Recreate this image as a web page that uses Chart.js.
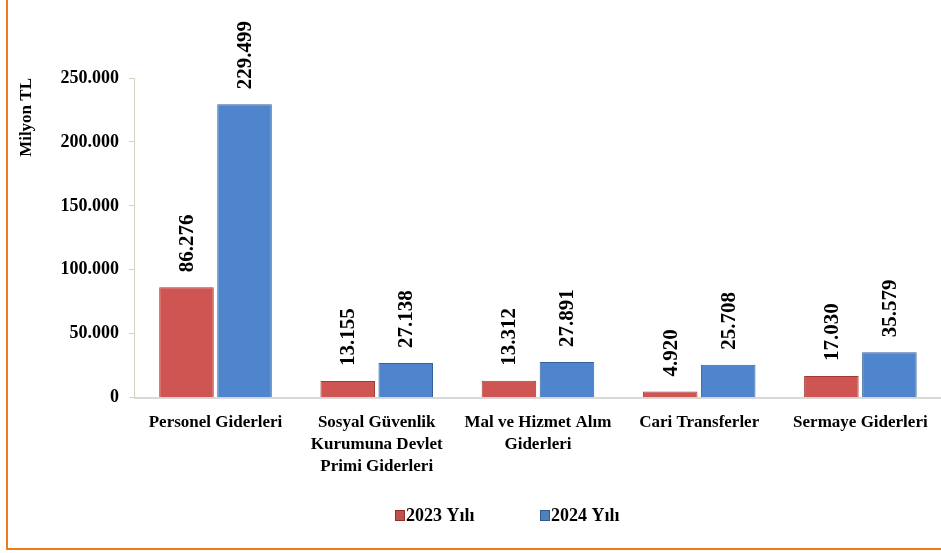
<!DOCTYPE html>
<html>
<head>
<meta charset="utf-8">
<script src="https://cdn.jsdelivr.net/npm/chart.js@4.4.0/dist/chart.umd.min.js"></script>
<style>
  html, body { margin: 0; padding: 0; background: #fff; }
  #wrap { position: relative; width: 941px; height: 553px; overflow: hidden; }
  #frame {
    position: absolute; left: 6px; top: -10px; width: 960px; height: 560px;
    border-left: 2px solid #F07A1A; border-bottom: 2px solid #F07A1A;
    box-sizing: border-box; pointer-events: none;
  }
  canvas { position: absolute; left: 0; top: 0; }
</style>
</head>
<body>
<div id="wrap">
  <canvas id="chart" width="941" height="553"></canvas>
  <div id="frame"></div>
</div>
<script>
// ===== 数据 =====
const categories = [
    ['Personel Giderleri'],
    ['Sosyal Güvenlik', 'Kurumuna Devlet', 'Primi Giderleri'],
    ['Mal ve Hizmet Alım', 'Giderleri'],
    ['Cari Transferler'],
    ['Sermaye Giderleri']
];
const seriesNames = ['2023 Yılı', '2024 Yılı'];
const values2023 = [86276, 13155, 13312, 4920, 17030];
const values2024 = [229499, 27138, 27891, 25708, 35579];
const yTicks = [0, 50000, 100000, 150000, 200000, 250000];

const FONT = '"Liberation Serif", "Times New Roman", serif';

// 千位分隔符用点
function fmt(v) {
    return String(v).replace(/\B(?=(\d{3})+(?!\d))/g, '.');
}

// 柱子的横向渐变（模拟立体效果）
function barGradient(ctx, edge, mid) {
    const chart = ctx.chart;
    const el = ctx.element;
    if (!chart.chartArea || !el || el.width === undefined) return mid;
    const x0 = el.x - el.width / 2;
    const x1 = el.x + el.width / 2;
    const g = chart.ctx.createLinearGradient(x0, 0, x1, 0);
    g.addColorStop(0, edge);
    g.addColorStop(0.12, mid);
    g.addColorStop(0.88, mid);
    g.addColorStop(1, edge);
    return g;
}

// 柱顶竖排数值
const valueLabels = {
    id: 'valueLabels',
    afterDatasetsDraw(chart) {
        const ctx = chart.ctx;
        ctx.save();
        ctx.font = 'bold 21px ' + FONT;
        ctx.fillStyle = '#000';
        ctx.textAlign = 'left';
        ctx.textBaseline = 'middle';
        chart.data.datasets.forEach((ds, di) => {
            const meta = chart.getDatasetMeta(di);
            meta.data.forEach((bar, i) => {
                ctx.save();
                ctx.translate(bar.x, bar.y - 15);
                ctx.rotate(-Math.PI / 2);
                ctx.fillText(fmt(ds.data[i]), 0, 1);
                ctx.restore();
            });
        });
        ctx.restore();
    }
};

// 底部图例（自绘）
const bottomLegend = {
    id: 'bottomLegend',
    afterDraw(chart) {
        const ctx = chart.ctx;
        const items = [
            { x: 395, color: '#C0504D', edge: '#8E2F2C' },
            { x: 540, color: '#4F81BD', edge: '#2F5A8E' }
        ];
        ctx.save();
        ctx.font = 'bold 18px ' + FONT;
        ctx.textBaseline = 'middle';
        items.forEach((it, i) => {
            ctx.fillStyle = it.color;
            ctx.fillRect(it.x, 510, 10, 11);
            ctx.strokeStyle = it.edge;
            ctx.lineWidth = 1;
            ctx.strokeRect(it.x + 0.5, 510.5, 9, 10);
            ctx.fillStyle = '#000';
            ctx.fillText(seriesNames[i], it.x + 11, 516);
        });
        ctx.restore();
    }
};

const ctx = document.getElementById('chart').getContext('2d');
new Chart(ctx, {
    type: 'bar',
    data: {
        labels: categories,
        datasets: [
            {
                label: seriesNames[0],
                data: values2023,
                backgroundColor: (c) => barGradient(c, '#A63F3C', '#CF5552'),
                borderColor: '#9E3B38',
                borderWidth: 1,
                categoryPercentage: 0.72,
                barPercentage: 0.94
            },
            {
                label: seriesNames[1],
                data: values2024,
                backgroundColor: (c) => barGradient(c, '#3A68A6', '#4E85CD'),
                borderColor: '#36619A',
                borderWidth: 1,
                categoryPercentage: 0.72,
                barPercentage: 0.94
            }
        ]
    },
    options: {
        responsive: false,
        animation: false,
        layout: { padding: { top: 78, left: 16, right: 0, bottom: 69 } },
        plugins: {
            legend: { display: false },
            tooltip: { enabled: false }
        },
        scales: {
            x: {
                grid: { display: false },
                border: { color: '#D9D9D9', width: 2 },
                ticks: {
                    color: '#000',
                    font: { family: FONT, size: 17, weight: 'bold', lineHeight: 1.3 },
                    maxRotation: 0,
                    autoSkip: false,
                    padding: 6
                }
            },
            y: {
                min: 0,
                max: 250000,
                afterBuildTicks: (axis) => { axis.ticks = yTicks.map(v => ({ value: v })); },
                grid: {
                    drawOnChartArea: false,
                    drawTicks: true,
                    tickLength: 6,
                    color: '#D8D3BE'
                },
                border: { color: '#D8D3BE', width: 1 },
                ticks: {
                    color: '#000',
                    font: { family: FONT, size: 18, weight: 'bold' },
                    padding: 10,
                    callback: (v) => fmt(v)
                },
                title: {
                    display: true,
                    text: 'Milyon TL',
                    align: 'end',
                    color: '#000',
                    font: { family: FONT, size: 17, weight: 'bold' },
                    padding: { top: 0, bottom: 14 }
                }
            }
        }
    },
    plugins: [valueLabels, bottomLegend]
});
</script>
</body>
</html>
